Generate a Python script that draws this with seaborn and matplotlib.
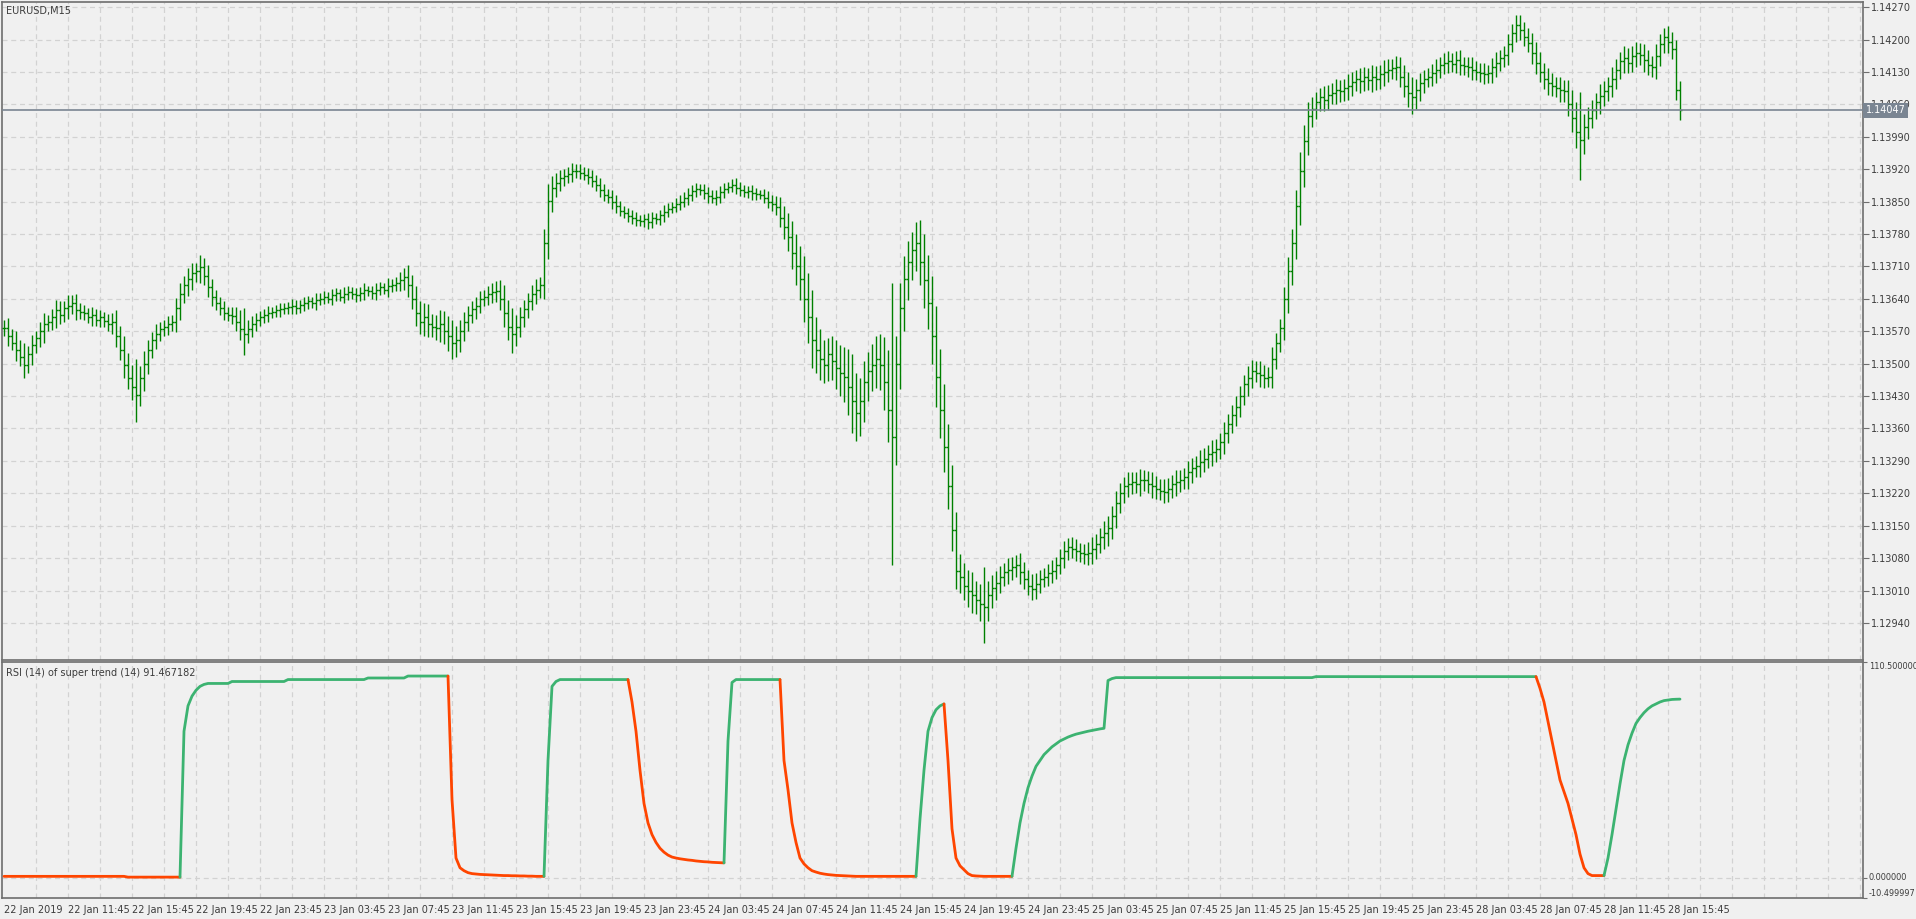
import numpy as np
import pandas as pd
import matplotlib
matplotlib.use("Agg")
import matplotlib.pyplot as plt
import seaborn as sns

symbol = "EURUSD,M15"
indicator_label = "RSI (14) of super trend (14) 91.467182"
base_price = 1.13000
last_price = 1.14047

# closes in points above 1.13000, one per M15 bar
closes = [
577,560,545,530,515,498,520,540,555,570,585,590,600,615,605,620,625,630,615,612,
609,600,605,595,600,592,585,590,560,530,498,470,450,433,470,500,530,551,565,575,
580,585,590,620,650,670,682,695,700,708,690,665,643,630,620,610,605,603,590,575,
564,575,585,595,600,605,609,612,615,618,620,622,625,620,627,630,635,630,638,640,
645,640,648,652,645,650,655,650,648,653,658,656,652,660,665,660,668,669,675,680,
687,670,640,610,590,600,585,580,577,585,570,560,545,551,570,590,605,617,625,640,
645,650,655,656,640,610,580,564,580,600,617,635,650,660,669,760,852,880,891,900,
905,910,915,917,912,908,904,895,885,875,865,860,850,840,830,825,818,815,810,808,
812,805,815,812,820,828,835,839,845,850,858,865,872,878,875,868,862,858,860,870,
878,882,886,880,875,870,872,868,866,865,858,850,845,839,815,795,773,740,710,682,
640,600,551,530,510,498,520,505,490,480,472,450,420,393,420,460,485,498,510,498,
460,400,341,500,620,682,720,745,760,720,680,630,560,472,400,320,236,140,53,40,
20,10,1,-10,-20,-25,0,15,27,40,50,55,60,66,50,35,20,14,25,35,
40,48,53,65,80,95,105,100,95,90,88,92,100,110,125,135,144,170,200,220,
236,240,245,240,248,249,240,235,230,225,223,230,240,245,249,255,265,275,280,288,
295,305,310,315,330,350,370,390,406,430,455,470,485,480,475,470,472,510,545,577,
640,700,760,840,917,980,1035,1050,1065,1075,1070,1080,1085,1090,1088,1095,1100,1108,1114,1110,
1118,1112,1120,1114,1125,1130,1135,1138,1140,1120,1100,1085,1075,1090,1105,1115,1120,1127,1135,1145,
1150,1153,1148,1155,1145,1142,1140,1135,1130,1128,1125,1127,1140,1150,1160,1166,1190,1215,1232,1220,
1205,1192,1170,1150,1130,1114,1105,1100,1095,1090,1088,1060,1030,1000,983,1010,1030,1048,1065,1078,
1088,1100,1115,1135,1153,1160,1150,1165,1170,1166,1155,1145,1140,1165,1190,1205,1195,1179,1090,1047,
]
# wick length in points beyond open/close
wicks = [
18,22,15,25,20,30,18,22,16,20,25,14,18,22,20,16,24,18,20,15,
15,12,18,14,16,12,15,20,25,22,30,25,28,60,25,28,22,18,20,16,
15,18,14,22,25,20,24,22,18,26,20,22,18,15,14,16,12,18,20,25,
45,20,18,15,14,12,16,10,12,14,10,12,15,12,10,14,12,10,15,12,
12,10,14,12,10,15,12,10,14,12,16,10,12,14,12,10,16,14,12,18,
20,25,22,28,25,30,28,22,25,30,28,32,35,30,25,22,20,18,20,16,
15,18,20,22,25,30,28,40,25,22,20,18,20,22,18,30,35,25,20,18,
16,14,18,15,14,12,15,14,12,15,14,12,15,14,12,10,12,14,12,10,
12,14,12,10,12,14,12,10,12,14,12,15,14,12,10,12,14,12,16,14,
12,10,12,14,12,10,12,14,12,10,12,14,15,18,20,25,30,35,40,45,
50,55,60,50,45,40,35,40,45,50,55,60,70,60,50,45,40,45,50,55,
60,70,275,60,55,50,45,40,45,50,60,55,60,65,60,55,50,45,40,35,
30,35,40,30,35,80,30,28,25,22,20,25,22,20,25,22,20,25,22,20,
18,20,22,18,20,22,18,20,22,18,20,22,25,22,20,25,28,22,25,22,
20,25,22,20,25,22,20,25,22,20,25,22,20,25,22,20,25,22,20,25,
22,20,25,22,20,25,22,20,25,22,20,25,22,20,25,22,20,25,22,20,
25,30,30,35,40,35,30,25,22,20,25,22,20,25,22,20,25,22,20,25,
22,20,25,22,20,25,22,20,25,22,25,30,35,25,22,20,18,20,22,18,
20,22,18,20,22,18,20,22,18,20,22,18,20,22,18,20,22,18,21,20,
18,20,22,25,22,20,25,22,20,25,22,25,30,35,86,30,25,22,20,25,
22,20,25,22,20,25,22,20,25,22,25,22,20,25,22,20,25,22,20,20,
]

rsi = (
    [0.6]*31 + [0.2]*14
    + [75,88,93,96,98,99] + [99.5]*6 + [100.5]*14 + [101.5]*20 + [102.3]*10 + [103.3]*11
    + [40,10,5,3.5,2.5,2,1.8,1.6,1.5,1.4,1.3,1.2,1.1,1.0,1.0,0.9,0.9,0.8,0.8,0.7,0.7,0.6,0.6,0.6]
    + [60,98,100.5] + [101.5]*18
    + [90,75,55,38,28,22,18,15,13,11.5,10.5,10,9.6,9.3,9,8.8,8.5,8.3,8.1,8,7.8,7.7,7.6,7.5]
    + [70,100] + [101.5]*12
    + [60,45,28,18,10,7,5,3.5,2.8,2.2,1.8,1.5,1.3,1.1,1.0,0.9,0.8,0.7] + [0.6]*16
    + [30,55,75,82,86,88,89]
    + [60,25,10,6,4,2,1,0.8,0.7] + [0.6]*8
    + [15,28,38,46,52,57,60,63,65,67,68.5,70,71,72,72.8,73.5,74,74.5,75,75.4,75.8,76.2,76.5]
    + [101,102] + [102.5]*50 + [103]*56
    + [97,90,80,70,60,50,44,38,30,22,12,5,2,1,1,1,1]
    + [10,22,35,48,60,68,74,79,82,84.5,86.5,88,89,90,90.7,91,91.3,91.4,91.467182]
)
# bars where the super trend is down (RSI drawn red)
red_runs = [(0, 44), (112, 135), (157, 180), (195, 228), (236, 252), (384, 400)]

tick_labels_x = ["22 Jan 2019", "22 Jan 11:45", "22 Jan 15:45", "22 Jan 19:45", "22 Jan 23:45",
                 "23 Jan 03:45", "23 Jan 07:45", "23 Jan 11:45", "23 Jan 15:45", "23 Jan 19:45",
                 "23 Jan 23:45", "24 Jan 03:45", "24 Jan 07:45", "24 Jan 11:45", "24 Jan 15:45",
                 "24 Jan 19:45", "24 Jan 23:45", "25 Jan 03:45", "25 Jan 07:45", "25 Jan 11:45",
                 "25 Jan 15:45", "25 Jan 19:45", "25 Jan 23:45", "28 Jan 03:45", "28 Jan 07:45",
                 "28 Jan 11:45", "28 Jan 15:45"]
price_ticks = [1.12940, 1.13010, 1.13080, 1.13150, 1.13220, 1.13290, 1.13360, 1.13430, 1.13500,
               1.13570, 1.13640, 1.13710, 1.13780, 1.13850, 1.13920, 1.13990, 1.14060, 1.14130,
               1.14200, 1.14270]
rsi_ticks = [-10.499997, 0.0, 110.5]
rsi_tick_labels = ["-10.499997", "0.000000", "110.500000"]

# ---------------- styling ----------------
sns.set_style("white")
plt.rcParams['font.family'] = ['DejaVu Sans']
BG = "#F0F0F0"
GRID = "#D2D2D2"
AX = "#6E6E6E"
TXT = "#3C3C3C"
FS = 7.0

W, H = 1916, 919
fig = plt.figure(figsize=(W/100, H/100), dpi=100, facecolor=BG)
left, right = 2/W, 1863/W
ax1 = fig.add_axes([left, 1-660/H, right-left, (660-2)/H])
ax2 = fig.add_axes([left, 1-898/H, right-left, (898-662)/H], sharex=ax1)

n = min(len(closes), len(wicks))
idx = np.arange(n)
c = base_price + np.array(closes[:n])/1e5
o = np.concatenate([[c[0]], c[:-1]])
w = np.array(wicks[:n])/1e5
hi = np.maximum(o, c) + w
lo = np.minimum(o, c) - w
hi[228] = base_price + 805/1e5
hi[49] = base_price + 734/1e5
hi[378] = base_price + 1253/1e5
lo[245] = base_price - 104/1e5

for ax in (ax1, ax2):
    ax.set_facecolor(BG)
    for s in ax.spines.values():
        s.set_color(AX)
        s.set_linewidth(1.2)
    for gx in np.arange(8, 470, 8):
        ax.axvline(gx, color=GRID, ls=(0, (4, 3)), lw=0.9, zorder=0)

ax1.set_xlim(-0.5, 464.75)
ax1.set_ylim(1.12860, 1.14281)
for t in price_ticks:
    ax1.axhline(t, color=GRID, ls=(0, (4, 3)), lw=0.9, zorder=0)

bar_col = "#008000"
ax1.vlines(idx, lo, hi, color=bar_col, lw=1.0, zorder=3)
ax1.hlines(o, idx-0.6, idx, color=bar_col, lw=1.0, zorder=3)
ax1.hlines(c, idx, idx+0.6, color=bar_col, lw=1.0, zorder=3)

ax1.axhline(last_price, color="#7A8592", lw=1.2, zorder=4)
ax1.yaxis.tick_right()
ax1.set_yticks(price_ticks)
ax1.set_yticklabels([f"{t:.5f}" for t in price_ticks])
ax1.tick_params(axis='y', colors=AX, labelcolor=TXT, labelsize=FS, length=4, pad=2)
ax1.tick_params(axis='x', bottom=False, labelbottom=False)
ax1.text(1.0015, last_price, f"{last_price:.5f}", transform=ax1.get_yaxis_transform(),
         ha='left', va='center', fontsize=FS, color='white',
         bbox=dict(boxstyle='square,pad=0.25', fc='#7A8592', ec='none'), zorder=6, clip_on=False)
ax1.text(0.002, 0.994, symbol, transform=ax1.transAxes, ha='left', va='top',
         fontsize=FS, color=TXT)

# RSI panel
ax2.set_ylim(rsi_ticks[0], rsi_ticks[-1])
ax2.axhline(0, color=GRID, ls=(0, (4, 3)), lw=0.9, zorder=0)
rsi_arr = np.full(n, np.nan)
m = min(n, len(rsi))
rsi_arr[:m] = rsi[:m]
is_red = np.zeros(n, dtype=bool)
for a, b in red_runs:
    is_red[a:b+1] = True
start = 0
for i in range(1, n+1):
    if i == n or is_red[i] != is_red[start]:
        s0 = max(start-1, 0)
        xs = idx[s0:i]
        ys = rsi_arr[s0:i]
        col = "#FF4500" if is_red[start] else "#3CB371"
        sns.lineplot(x=xs, y=ys, ax=ax2, color=col, lw=2.0, zorder=3, estimator=None)
        start = i
ax2.yaxis.tick_right()
ax2.set_yticks(rsi_ticks)
ax2.set_yticklabels(rsi_tick_labels)
ax2.tick_params(axis='y', colors=AX, labelcolor=TXT, labelsize=5.9, length=3, pad=1)
for lab in ax2.get_yticklabels():
    lab.set_va('center')
ax2.get_yticklabels()[0].set_va('bottom')
ax2.get_yticklabels()[-1].set_va('top')
ax2.set_xticks(np.arange(0, 16*len(tick_labels_x), 16))
ax2.set_xticklabels(tick_labels_x, ha='left')
ax2.tick_params(axis='x', colors=AX, labelcolor=TXT, labelsize=FS, length=4, pad=1)
ax2.set_xlabel("")
ax2.set_ylabel("")
ax2.text(0.002, 0.975, indicator_label, transform=ax2.transAxes, ha='left', va='top',
         fontsize=FS, color=TXT)

fig.savefig("out.png", dpi=100, facecolor=BG)
